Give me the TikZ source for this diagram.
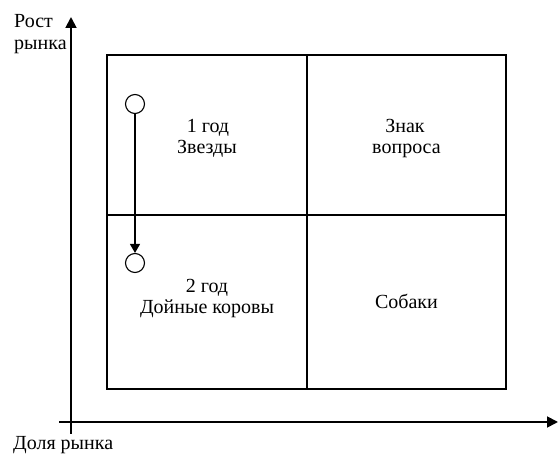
\documentclass[tikz,border=0pt]{standalone}
\usepackage{fontspec}
\setmainfont{Liberation Serif}
\usetikzlibrary{arrows.meta}
\tikzset{
  axisline/.style={line width=1.8pt, -{Triangle[length=11pt,width=11pt]}},
  cellbox/.style={draw, line width=1.4pt, rectangle, inner sep=0pt},
  lbl/.style={font=\fontsize{20}{22}\selectfont, inner sep=0pt, anchor=base},
  circ/.style={draw, circle, line width=1.1pt, minimum size=19pt, inner sep=0pt},
  moveline/.style={line width=1.3pt, -{Triangle[length=9pt,width=10pt]}}
}
\begin{document}
\begin{tikzpicture}[x=1pt,y=-1pt]
\useasboundingbox (0,0) rectangle (558,454);
% axes
\coordinate (yb) at (71,434);
\coordinate (yt) at (71,17);
\coordinate (xl) at (59,422);
\coordinate (xr) at (558,422);
\draw[axisline] (yb) -- (yt);
\draw[axisline] (xl) -- (xr);
% cells
\node[cellbox, minimum width=200pt, minimum height=160pt] (q1) at (207,135) {};
\node[cellbox, minimum width=199pt, minimum height=160pt] (q2) at (406.5,135) {};
\node[cellbox, minimum width=200pt, minimum height=174pt] (q3) at (207,302) {};
\node[cellbox, minimum width=199pt, minimum height=174pt] (q4) at (406.5,302) {};
% axis labels
\node[lbl, anchor=base west] (ly1) at (14,28) {Рост};
\node[lbl, anchor=base west] (ly2) at (14,50) {рынка};
\node[lbl, anchor=base west] (lx) at (13,450) {Доля рынка};
% quadrant labels
\node[lbl] (t1a) at (208,133) {1 год};
\node[lbl] (t1b) at (207,154) {Звезды};
\node[lbl] (t2a) at (405,133) {Знак};
\node[lbl] (t2b) at (406.5,154) {вопроса};
\node[lbl] (t3a) at (207,293) {2 год};
\node[lbl] (t3b) at (207,314) {Дойные коровы};
\node[lbl] (t4) at (406.5,309) {Собаки};
% circles and move
\node[circ] (c1) at (135,104) {};
\node[circ] (c2) at (135,263) {};
\draw[moveline] (c1) -- (c2);
\end{tikzpicture}
\end{document}
